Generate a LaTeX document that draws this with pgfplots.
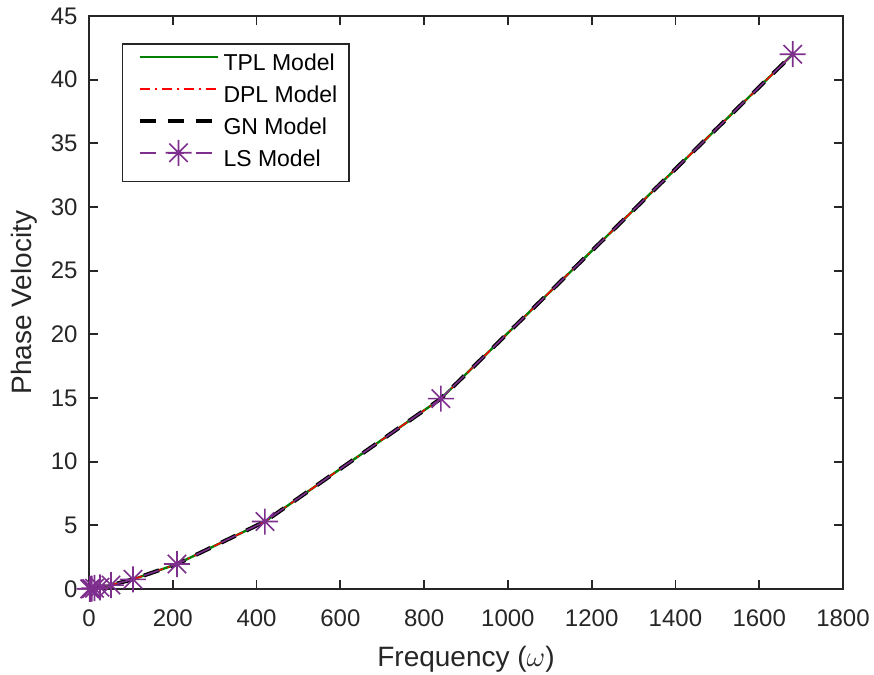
\documentclass[border=0pt]{standalone}
\usepackage{pgfplots}
\pgfplotsset{compat=1.18}
\usepackage{fontspec}
\setmainfont{Liberation Sans}
\definecolor{mgreen}{rgb}{0,0.5,0}
\definecolor{mpurple}{rgb}{0.494,0.184,0.556}
\definecolor{axgray}{rgb}{0.15,0.15,0.15}
\pgfdeclareplotmark{mstar}{%
  \pgfpathmoveto{\pgfqpoint{-\pgfplotmarksize}{0pt}}\pgfpathlineto{\pgfqpoint{\pgfplotmarksize}{0pt}}%
  \pgfpathmoveto{\pgfqpoint{0pt}{-\pgfplotmarksize}}\pgfpathlineto{\pgfqpoint{0pt}{\pgfplotmarksize}}%
  \pgfpathmoveto{\pgfqpoint{-0.707\pgfplotmarksize}{-0.707\pgfplotmarksize}}\pgfpathlineto{\pgfqpoint{0.707\pgfplotmarksize}{0.707\pgfplotmarksize}}%
  \pgfpathmoveto{\pgfqpoint{-0.707\pgfplotmarksize}{0.707\pgfplotmarksize}}\pgfpathlineto{\pgfqpoint{0.707\pgfplotmarksize}{-0.707\pgfplotmarksize}}%
  \pgfusepathqstroke}
\pgfplotstableread{
x y
1.640625 0.007
3.28125 0.014
6.5625 0.03
13.125 0.06
26.25 0.13
52.5 0.31
105 0.76
210 1.96
420 5.3
840 14.95
1680 42.0
}\vel
\begin{document}
\begin{tikzpicture}
\begin{axis}[name=ax,
  width=377pt, height=286.5pt, scale only axis,
  xmin=0, xmax=1800, ymin=0, ymax=45,
  xtick={0,200,...,1800}, ytick={0,5,...,45},
  tick align=inside, major tick length=4.5pt,
  axis line style={axgray, line width=0.9pt},
  tick style={axgray, line width=0.9pt},
  /pgf/number format/assume math mode=true,
  /pgf/number format/1000 sep={},
  scaled ticks=false,
  tick label style={font=\fontsize{12}{14}\selectfont, text=axgray},
  xticklabel style={yshift=-7pt},
  yticklabel style={xshift=-2.2pt},
  xlabel={Frequency ($\omega$)}, ylabel={Phase Velocity},
  label style={font=\fontsize{14}{16}\selectfont, text=axgray},
  xlabel style={at={(axis description cs:0.5,0)}, anchor=base, yshift=-38.9pt},
  ylabel style={at={(axis description cs:0,0.5)}, anchor=base, yshift=28.7pt},
  legend style={at={(rel axis cs:0.0434,0.9524)}, anchor=north west,
    draw=axgray, line width=0.8pt, fill=white,
    inner xsep=4pt, inner ysep=2.6pt, row sep=0.5pt,
    font=\fontsize{11.5}{13}\selectfont,
    nodes={inner xsep=2pt, inner ysep=2.5pt, text height=8pt, text depth=2.5pt}},
  legend cell align=left,
  legend image code/.code={%
    \path[draw=none, fill=none] (0pt,-2pt) rectangle (44.5pt,2pt);
    \draw[overlay, mark repeat=2, mark phase=2, #1] plot coordinates {(4.5pt,4pt) (24pt,4pt) (43.5pt,4pt)};},
]
\addplot[mgreen, line width=1.2pt, solid] table {\vel};
\addlegendentry{TPL Model}
\addplot[red, line width=0.75pt, dash pattern=on 5pt off 2.5pt on 1pt off 2.5pt] table {\vel};
\addlegendentry{DPL Model}
\addplot[black, line width=2pt, dash pattern=on 8pt off 6pt] table {\vel};
\addlegendentry{GN Model}
\addplot[mpurple, line width=0.8pt, dash pattern=on 8pt off 6pt, mark=mstar, mark size=6.5pt, mark options={solid, line width=0.8pt}] table {\vel};
\addlegendentry{LS Model}
\end{axis}
\pgfresetboundingbox
\useasboundingbox ([xshift=-44.5pt, yshift=-43pt]ax.south west) rectangle ([xshift=15.5pt, yshift=8pt]ax.north east);
\end{tikzpicture}
\end{document}
